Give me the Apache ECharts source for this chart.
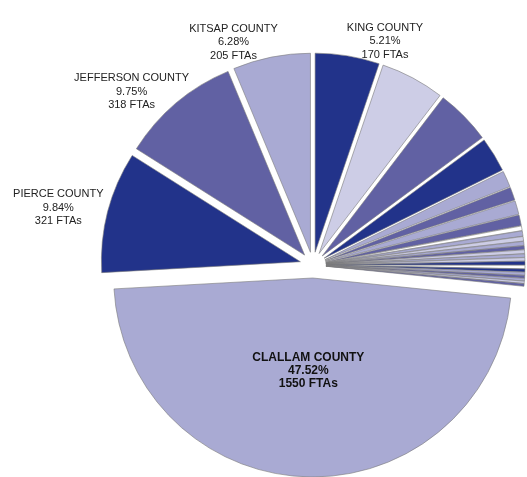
<!DOCTYPE html>
<html>
<head>
<meta charset="utf-8">
<script src="https://cdn.jsdelivr.net/npm/echarts@6.0.0/dist/echarts.min.js"></script>
<style>
  html, body { margin: 0; padding: 0; background: #fff; }
  #chart { width: 527px; height: 477px; }
</style>
</head>
<body>
<div id="chart"></div>
<script>
// slices in clockwise order from 12 o'clock
var counties = ['KING COUNTY', 'OTHER 2', 'OTHER 3', 'OTHER 4', 'OTHER 5', 'OTHER 6', 'OTHER 7', 'OTHER 8',
  'OTHER 9', 'OTHER 10', 'OTHER 11', 'OTHER 12', 'OTHER 13', 'OTHER 14', 'OTHER 15', 'OTHER 16',
  'OTHER 17', 'OTHER 18', 'OTHER 19', 'OTHER 20', 'OTHER 21', 'OTHER 22', 'OTHER 23', 'OTHER 24',
  'CLALLAM COUNTY', 'PIERCE COUNTY', 'JEFFERSON COUNTY', 'KITSAP COUNTY']
var ftas = [170, 169, 146, 92, 43, 35, 36, 28,
  12, 14, 12, 11, 10, 10, 9, 9,
  10, 9, 8, 8, 7, 7, 6, 7,
  1550, 321, 318, 205]
var labelled = ['KING COUNTY', 'CLALLAM COUNTY', 'PIERCE COUNTY', 'JEFFERSON COUNTY', 'KITSAP COUNTY']

var NAVY = '#22338a'
var MID = '#6161a3'
var LIGHT = '#a9aad3'
var PALE = '#cdcde6'
var WHITE = '#ffffff'
var sliceColors = [NAVY, PALE, MID, NAVY, LIGHT, MID, LIGHT, MID,
  WHITE, LIGHT, PALE, LIGHT, MID, PALE, LIGHT, PALE,
  NAVY, WHITE, NAVY, LIGHT, MID, LIGHT, PALE, MID,
  LIGHT, NAVY, MID, LIGHT]

// where each outside label block is centred
var labelAnchor = {
  'KING COUNTY': [361, 29],
  'KITSAP COUNTY': [262, 29],
  'JEFFERSON COUNTY': [133, 89],
  'PIERCE COUNTY': [55, 205]
}

var total = ftas.reduce(function (a, b) { return a + b }, 0)

function labelText(p) {
  return p.name + '\n' + (p.value / total * 100).toFixed(2) + '%\n' + p.value + ' FTAs'
}

var chart = echarts.init(document.getElementById('chart'))

var data = counties.map(function (name, i) {
  var item = {
    name: name,
    value: ftas[i],
    selected: true,
    itemStyle: { color: sliceColors[i] }
  }
  if (labelled.indexOf(name) < 0) {
    item.label = { show: false }
  } else if (name === 'CLALLAM COUNTY') {
    // empty trailing line lifts the block a little above the slice centre
    item.label = {
      position: 'inside', padding: [0, 4, 0, 0],
      fontWeight: 'bold', fontSize: 12, color: '#111', lineHeight: 13,
      formatter: function (p) { return labelText(p) + '\n{gap|}' },
      rich: { gap: { lineHeight: 20, fontSize: 1 } }
    }
  }
  return item
})

chart.setOption({
  animation: false,
  series: [
    {
      type: 'pie',
      center: [313, 265],
      radius: 199,
      startAngle: 90,
      clockwise: true,
      selectedMode: 'multiple',
      selectedOffset: 13,
      avoidLabelOverlap: false,
      itemStyle: {
        borderColor: '#7a7a7a',
        borderWidth: 0.6
      },
      select: {
        itemStyle: { borderColor: '#7a7a7a', borderWidth: 0.6 }
      },
      emphasis: { disabled: true },
      label: {
        show: true,
        position: 'outside',
        formatter: labelText,
        fontFamily: 'Liberation Sans, Arial, sans-serif',
        fontSize: 11,
        lineHeight: 13.5,
        color: '#222',
        align: 'center'
      },
      labelLine: { show: false },
      labelLayout: function (params) {
        var name = counties[params.dataIndex]
        var p = labelAnchor[name]
        if (!p) return {}
        return { x: p[0], y: p[1], align: 'center', verticalAlign: 'middle' }
      },
      data: data
    }
  ]
})
</script>
</body>
</html>
